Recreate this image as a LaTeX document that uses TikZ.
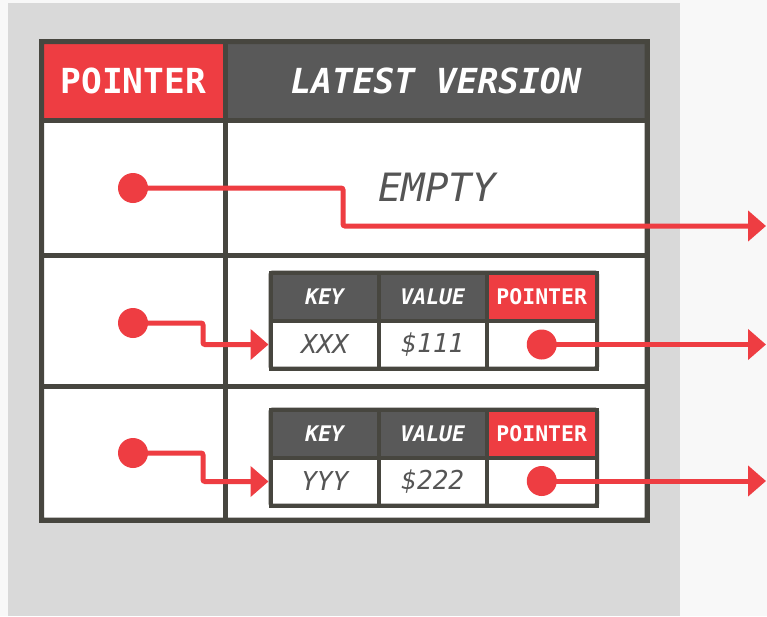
\documentclass[tikz,border=0pt]{standalone}
\usepackage{fontspec}
\setmonofont{DejaVu Sans Mono}
\usetikzlibrary{arrows.meta}

\definecolor{ptred}{HTML}{EE3D42}
\definecolor{hdrgray}{HTML}{595959}
\definecolor{rule}{HTML}{47463F}
\definecolor{txtgray}{HTML}{555555}
\definecolor{panel}{HTML}{D9D9D9}
\definecolor{pagebg}{HTML}{F8F8F8}

\tikzset{
  cell/.style={draw=rule, line width=5pt, inner sep=0pt, fill=white},
  headred/.style={cell, fill=ptred, text=white, font=\ttfamily\bfseries\fontsize{34.5}{40}\selectfont},
  headgray/.style={cell, fill=hdrgray, text=white, font=\ttfamily\bfseries\itshape\fontsize{34.5}{40}\selectfont},
  bigtext/.style={text=txtgray, font=\ttfamily\itshape\fontsize{39}{44}\selectfont},
  kvcell/.style={draw=rule, line width=4pt, inner sep=0pt, fill=white,
    minimum height=48pt, text=txtgray, font=\ttfamily\itshape\fontsize{26}{30}\selectfont},
  kvhead/.style={kvcell, fill=hdrgray, text=white, font=\ttfamily\bfseries\itshape\fontsize{21.5}{26}\selectfont},
  kvptr/.style={kvcell, fill=ptred, text=white, font=\ttfamily\bfseries\fontsize{21.5}{26}\selectfont},
  dot/.style={circle, fill=ptred, inner sep=0pt, minimum size=30pt},
  link/.style={draw=ptred, line width=5pt, rounded corners=2pt,
    -{Triangle[length=18pt,width=30pt]}},
}

% key/value/pointer record: #1 name prefix, #2 top y, #3 key, #4 value
\newcommand{\kvrecord}[4]{%
  \node[kvhead, minimum width=108.5pt] (#1hk) at (324.75,{#2+24}) {KEY};
  \node[kvhead, minimum width=107.5pt] (#1hv) at (432.75,{#2+24}) {VALUE};
  \node[kvptr,  minimum width=110.5pt] (#1hp) at (541.75,{#2+24}) {POINTER};
  \node[kvcell, minimum width=108.5pt] (#1k) at (324.75,{#2+72}) {#3};
  \node[kvcell, minimum width=107.5pt] (#1v) at (432.75,{#2+72}) {#4};
  \node[kvcell, minimum width=110.5pt] (#1p) at (541.75,{#2+72}) {};
  \draw[rule, line width=4pt, rounded corners=2pt] (270.5,#2) rectangle (597,{#2+96});
}

\begin{document}
\begin{tikzpicture}[x=1pt, y=-1pt]
  \useasboundingbox (0,0) rectangle (767,616);
  \fill[pagebg] (0,0) rectangle (767,616);
  \fill[panel] (8,3) rectangle (680,616);

  % version table: header row
  \node[headred, minimum width=183.5pt, minimum height=78.5pt] (hptr) at (133.25,80.75) {POINTER};
  \node[headgray, minimum width=422pt, minimum height=78.5pt] (hver) at (436,80.75) {LATEST VERSION};

  % version table: body rows
  \node[cell, minimum width=183.5pt, minimum height=135.5pt] (l1) at (133.25,187.75) {};
  \node[cell, minimum width=422pt, minimum height=135.5pt] (r1) at (436,187.75) {};
  \node[cell, minimum width=183.5pt, minimum height=131pt] (l2) at (133.25,321) {};
  \node[cell, minimum width=422pt, minimum height=131pt] (r2) at (436,321) {};
  \node[cell, minimum width=183.5pt, minimum height=133.5pt] (l3) at (133.25,453.25) {};
  \node[cell, minimum width=422pt, minimum height=133.5pt] (r3) at (436,453.25) {};
  \draw[rule, line width=5pt, rounded corners=2pt] (41.5,41.5) rectangle (647,520);

  \node[bigtext] (empty) at (437,187) {EMPTY};

  % records held in rows 2 and 3
  \kvrecord{a}{272.5}{XXX}{\$111}
  \kvrecord{b}{409.5}{YYY}{\$222}

  % pointers
  \node[dot] (d1) at (133,188) {};
  \node[dot] (d2) at (133,323) {};
  \node[dot] (d3) at (133,453) {};
  \node[dot] (pa) at (541.75,344.5) {};
  \node[dot] (pb) at (541.75,481) {};

  \coordinate (bend1) at (343,226);
  \coordinate (out1) at (766,226);
  \coordinate (bendx) at (203,0);
  \coordinate (rightx) at (766,0);

  \draw[link] (d1.center) -| (bend1) -- (out1);
  \draw[link] (d2.center) -| (bendx |- ak.west) -- (ak.west);
  \draw[link] (d3.center) -| (bendx |- bk.west) -- (bk.west);
  \draw[link] (pa.center) -- (pa.center -| rightx);
  \draw[link] (pb.center) -- (pb.center -| rightx);
\end{tikzpicture}
\end{document}
